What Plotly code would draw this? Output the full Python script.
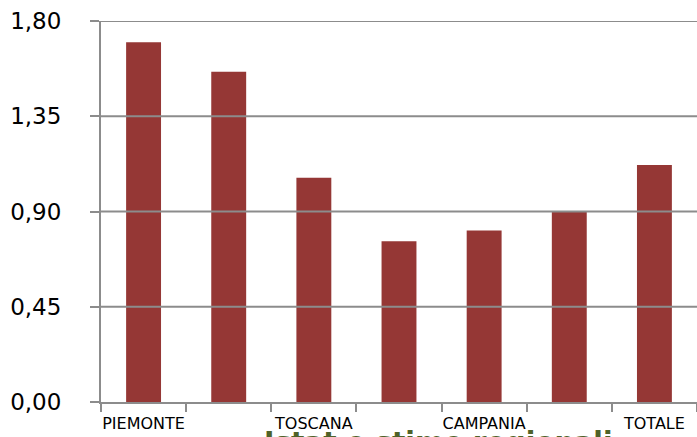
import plotly.graph_objects as go

# Regional values with the overall total
regions = ["PIEMONTE", "LOMBARDIA", "TOSCANA", "LAZIO", "CAMPANIA", "SICILIA", "TOTALE"]
values = [1.70, 1.56, 1.06, 0.76, 0.81, 0.90, 1.12]
# Only every other category label is printed on the axis
shown_labels = ["PIEMONTE", "", "TOSCANA", "", "CAMPANIA", "", "TOTALE"]
y_ticks = [0.0, 0.45, 0.90, 1.35, 1.80]
y_tick_text = ["0,00", "0,45", "0,90", "1,35", "1,80"]

BAR = "#953735"
GRID = "#8c8c8c"
FONT = "DejaVu Sans"

fig = go.Figure(
    go.Bar(x=regions, y=values, marker=dict(color=BAR, line=dict(width=0)),
           width=0.41, hoverinfo="x+y")
)

# Horizontal gridlines sit on top of the bars
for v in y_ticks[1:]:
    fig.add_shape(type="line", xref="paper", yref="y", x0=0, x1=1, y0=v, y1=v,
                  line=dict(color=GRID, width=2), layer="above")

# Slide heading peeking in below the chart
fig.add_annotation(
    text="Istat e stime regionali", xref="paper", yref="paper",
    x=0.27, y=-0.058, xanchor="left", yanchor="top", showarrow=False,
    font=dict(family=FONT, size=28, color="#4f6228", weight="bold"),
)

fig.update_layout(
    width=697, height=437,
    margin=dict(l=101, r=0, t=21, b=35),
    paper_bgcolor="white", plot_bgcolor="white",
    showlegend=False,
    font=dict(family=FONT, color="black"),
    xaxis=dict(
        type="category", tickson="boundaries",
        tickvals=regions, ticktext=shown_labels, tickangle=0,
        automargin=False,
        showline=True, linecolor=GRID, linewidth=2,
        ticks="outside", ticklen=8, tickwidth=2, tickcolor=GRID,
        tickfont=dict(size=16, color="black"),
        ticklabelstandoff=6,
        showgrid=False, zeroline=False,
    ),
    yaxis=dict(
        range=[0, 1.8], tickvals=y_ticks, ticktext=y_tick_text,
        automargin=False,
        showline=True, linecolor=GRID, linewidth=2,
        ticks="outside", ticklen=9, tickwidth=2, tickcolor=GRID,
        tickfont=dict(size=23, color="black"),
        ticklabelstandoff=24,
        showgrid=False, zeroline=False,
    ),
)

fig.write_html("out.html")
